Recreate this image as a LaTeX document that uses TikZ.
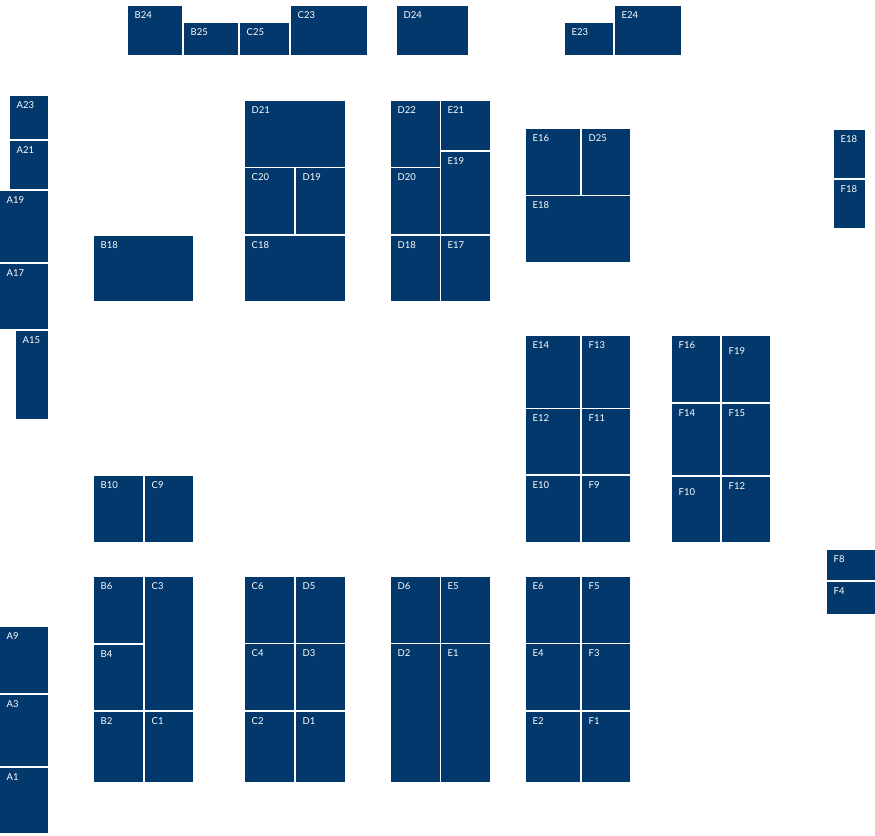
\documentclass[tikz,border=0pt]{standalone}
\usepackage{fontspec}
\setmainfont{Lato}
\usetikzlibrary{positioning}
\definecolor{navy}{HTML}{02386B}
\tikzset{
  room/.style={rectangle, fill=navy, draw=none, inner sep=0pt, anchor=north west},
  tag/.style={anchor=north west, inner sep=0pt, text=white,
              font=\fontsize{9.5}{9.5}\selectfont}
}

\begin{document}
\begin{tikzpicture}[x=1pt, y=-1pt]
\useasboundingbox (0,0) rectangle (875,835);

% rooms: left/top/right/bottom/label
\foreach \a/\b/\c/\d/\t [evaluate=\c as \w using \c-\a,
    evaluate=\d as \h using \d-\b, count=\i] in {
  128/6/182/55/B24, 184/23/238/55/B25, 240/23/289/55/C25, 291/6/367/55/C23,
  397/6/468/55/D24, 565/23/613/55/E23, 615/6/681/55/E24,
  10/96/48/139/A23, 10/141/48/189/A21, 0/191/48/262/A19, 0/264/48/329/A17,
  16/331/48/419/A15, 94/236/193/301/B18,
  245/101/345/167/D21, 245/168/294/234/C20, 296/168/345/234/D19,
  245/236/345/301/C18,
  391/101/440/167/D22, 441/101/490/150/E21, 441/152/490/234/E19,
  391/168/440/234/D20, 391/236/440/301/D18, 441/236/490/301/E17,
  526/129/580/195/E16, 582/129/630/195/D25, 526/196/630/262/E18,
  834/130/865/178/E18, 834/180/865/228/F18,
  526/336/580/408/E14, 582/336/630/408/F13, 526/409/580/474/E12,
  582/409/630/474/F11, 526/476/580/542/E10, 582/476/630/542/F9,
  672/336/720/402/F16, 672/404/720/475/F14, 722/404/770/475/F15,
  722/477/770/542/F12,
  94/476/143/542/B10, 145/476/193/542/C9,
  827/550/875/580/F8, 827/582/875/614/F4,
  0/627/48/693/A9, 0/695/48/766/A3, 0/768/48/833/A1,
  94/577/143/643/B6, 94/645/143/710/B4, 94/712/143/782/B2,
  145/577/193/710/C3, 145/712/193/782/C1,
  245/577/294/643/C6, 296/577/345/643/D5, 245/644/294/710/C4,
  296/644/345/710/D3, 245/712/294/782/C2, 296/712/345/782/D1,
  391/577/440/643/D6, 441/577/490/643/E5, 391/644/440/782/D2,
  441/644/490/782/E1,
  526/577/580/643/E6, 582/577/630/643/F5, 526/644/580/710/E4,
  582/644/630/710/F3, 526/712/580/782/E2, 582/712/630/782/F1}
{
  \node[room, minimum width=\w pt, minimum height=\h pt] (room\i) at (\a,\b) {};
  \node[tag, below right=5.5pt and 6.5pt of room\i.north west, anchor=north west] (tag\i) {\t};
}

% two rooms whose tag sits lower
\foreach \a/\b/\c/\d/\t [evaluate=\c as \w using \c-\a,
    evaluate=\d as \h using \d-\b] in {
  722/336/770/402/F19, 672/477/720/542/F10}
{
  \node[room, minimum width=\w pt, minimum height=\h pt] (room\t) at (\a,\b) {};
  \node[tag, below right=11pt and 6.5pt of room\t.north west, anchor=north west] (tag\t) {\t};
}
\end{tikzpicture}
\end{document}
